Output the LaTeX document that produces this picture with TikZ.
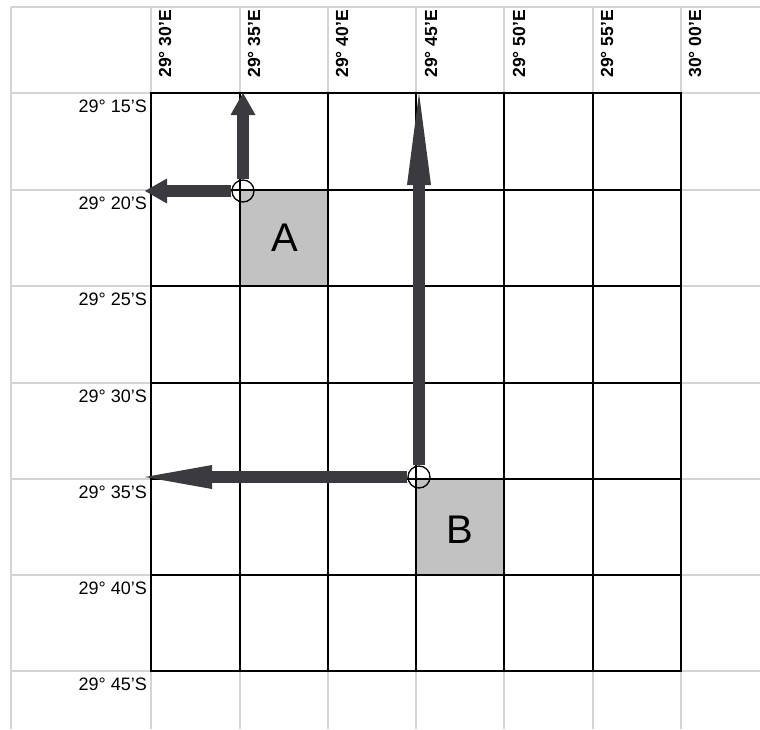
\documentclass[tikz,border=0pt]{standalone}
\usepackage{fontspec}
\setmainfont{Liberation Sans}
\usetikzlibrary{positioning, arrows.meta}

\begin{document}
\begin{tikzpicture}[x=1pt, y=-1pt]
    % Colores
    \definecolor{hoja}{RGB}{212,212,212}   % lineas de la hoja
    \definecolor{celda}{RGB}{194,194,194}  % celdas A y B
    \definecolor{flecha}{RGB}{58,58,63}    % flechas

    \tikzset{
        lat/.style={anchor=east, inner sep=0pt, font=\fontsize{18}{18}\selectfont},
        lon/.style={rotate=90, anchor=east, inner sep=0pt, font=\bfseries\fontsize{17.5}{17.5}\selectfont},
        punto/.style={circle, draw, line width=1.3pt, minimum size=22pt, inner sep=0pt},
        corta/.style={flecha, line width=12pt, -{Triangle[length=22pt,width=25pt,line width=0pt]}},
        larga/.style={flecha, line width=12pt, -{Triangle[length=#1,width=24pt,line width=0pt]}},
        letra/.style={font=\fontsize{40}{40}\selectfont}
    }

    \useasboundingbox (0,0) rectangle (760,729);

    % Celdas sombreadas
    \fill[celda] (240,190) rectangle (328,286);
    \fill[celda] (416,479) rectangle (504,575);

    % Cuadricula de la hoja
    \draw[hoja, line width=1.2pt]
        (11,7) -- (760,7) (11,93) -- (760,93) (11,190) -- (760,190)
        (11,286) -- (760,286) (11,383) -- (760,383) (11,479) -- (760,479)
        (11,575) -- (760,575) (11,671) -- (760,671);
    \draw[hoja, line width=1.2pt]
        (11,7) -- (11,729) (151,7) -- (151,729) (240,7) -- (240,729)
        (328,7) -- (328,729) (416,7) -- (416,729) (504,7) -- (504,729)
        (593,7) -- (593,729) (681,7) -- (681,729);

    % Cuadricula del mapa
    \draw[line width=1.5pt]
        (240,93) -- (240,671) (328,93) -- (328,671) (504,93) -- (504,671)
        (593,93) -- (593,671)
        (151,190) -- (681,190) (151,286) -- (681,286) (151,479) -- (681,479)
        (151,575) -- (681,575);
    \draw[line width=2.5pt] (416,93) -- (416,671) (151,383) -- (681,383);
    \draw[line width=2.5pt] (151,93) rectangle (681,671);

    % Longitudes
    \node[lon] (lon1) at (165,10) {29° 30'E};
    \node[lon] (lon2) at (254,10) {29° 35'E};
    \node[lon] (lon3) at (342,10) {29° 40'E};
    \node[lon] (lon4) at (431,10) {29° 45'E};
    \node[lon] (lon5) at (519,10) {29° 50'E};
    \node[lon] (lon6) at (607,10) {29° 55'E};
    \node[lon] (lon7) at (695,10) {30° 00'E};

    % Latitudes
    \node[lat] (lat1) at (147,106.5) {29° 15'S};
    \node[lat] (lat2) at (147,203.5) {29° 20'S};
    \node[lat] (lat3) at (147,299.5) {29° 25'S};
    \node[lat] (lat4) at (147,396.5) {29° 30'S};
    \node[lat] (lat5) at (147,492.5) {29° 35'S};
    \node[lat] (lat6) at (147,588.5) {29° 40'S};
    \node[lat] (lat7) at (147,684.5) {29° 45'S};

    % Letras de las celdas
    \node[letra] (A) at (285,238) {A};
    \node[letra] (B) at (460,530) {B};

    % Puntos y extremos de las flechas
    \node[punto] (pA) at (243,191) {};
    \node[punto] (pB) at (419,477) {};
    \coordinate (nA) at (243,93);
    \coordinate (oA) at (145,191);
    \coordinate (nB) at (419,93);
    \coordinate (oB) at (145,477);

    % Flechas
    \draw[corta] (pA) -- (nA);
    \draw[corta] (pA) -- (oA);
    \draw[larga=92pt] (pB) -- (nB);
    \draw[larga=67pt] (pB) -- (oB);
\end{tikzpicture}
\end{document}
